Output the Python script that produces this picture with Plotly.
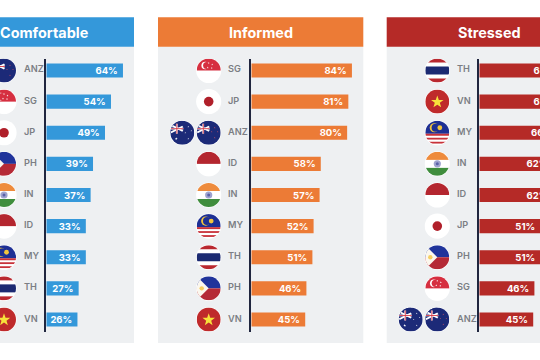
import base64
import math
import plotly.graph_objects as go

W, H = 540, 360

# ---- data ----
comfortable_codes = ["ANZ", "SG", "JP", "PH", "IN", "ID", "MY", "TH", "VN"]
comfortable_values = [64, 54, 49, 39, 37, 33, 33, 27, 26]
informed_codes = ["SG", "JP", "ANZ", "ID", "IN", "MY", "TH", "PH", "VN"]
informed_values = [84, 81, 80, 58, 57, 52, 51, 46, 45]
stressed_codes = ["TH", "VN", "MY", "IN", "ID", "JP", "PH", "SG", "ANZ"]
stressed_values = [68, 68, 66, 62, 62, 51, 51, 46, 45]
titles = ["Comfortable", "Informed", "Stressed"]
colors = ["#3498da", "#ec7b36", "#b52a27"]

FONT = "Inter, Roboto, sans-serif"

def star(cx, cy, r, fill):
    pts = []
    for i in range(10):
        a = -math.pi / 2 + i * math.pi / 5
        rr = r if i % 2 == 0 else r * 0.4
        pts.append(f"{cx + rr * math.cos(a):.2f},{cy + rr * math.sin(a):.2f}")
    return f'<polygon points="{" ".join(pts)}" fill="{fill}"/>'

def rect(x, y, w, h, fill):
    return f'<rect x="{x}" y="{y}" width="{w}" height="{h}" fill="{fill}"/>'

def jack(red):
    return (rect(0, 0, 12, 12, "#1c2a78")
            + '<polygon points="0,5 12,11 13,9.5 1,3.5" fill="#fff"/>'
            + '<polygon points="0,11 12,5 13,6.5 1,12.5" fill="#fff"/>'
            + rect(0, 7, 13, 1.8, "#fff") + rect(5.6, 3, 1.8, 10, "#fff")
            + rect(0, 7.5, 13, 0.9, red) + rect(6.1, 3, 0.9, 10, red))

FLAGS = {
    "SG": rect(0, 0, 48, 12, "#d62f40")
          + '<circle cx="8.5" cy="7" r="3.8" fill="#fff"/><circle cx="10" cy="7" r="3.6" fill="#d62f40"/>'
          + star(12, 4.5, 1, "#fff") + star(15.5, 6, 1, "#fff") + star(11, 9, 1, "#fff") + star(15, 9.5, 1, "#fff"),
    "JP": '<circle cx="12" cy="12" r="4.8" fill="#b01f2a"/>',
    "PH": rect(0, 0, 24, 12, "#20349b") + rect(0, 12, 24, 12, "#b52a36")
          + '<polygon points="0,0 12,12 0,24" fill="#fbf7ee"/><circle cx="5" cy="12" r="2.2" fill="#f5cf62"/>',
    "IN": rect(0, 0, 24, 8, "#ee8b3c") + rect(0, 16, 24, 8, "#3f8d3d")
          + '<circle cx="12" cy="12" r="3.6" fill="#9fa3cf"/><circle cx="12" cy="12" r="1.5" fill="#5a62a8"/>',
    "ID": rect(0, 0, 24, 12, "#b4262f"),
    "MY": rect(0, 0, 24, 13, "#1d2f94")
          + '<circle cx="9" cy="7" r="4.6" fill="#f2c53d"/><circle cx="10.3" cy="7" r="4" fill="#1d2f94"/>'
          + '<circle cx="14.5" cy="7" r="2.4" fill="#f2c53d"/>'
          + rect(0, 13, 24, 2, "#c8323a") + rect(0, 17, 24, 1.8, "#c8323a") + rect(0, 21, 24, 1.8, "#c8323a"),
    "TH": rect(0, 0, 24, 4, "#b9282f") + rect(0, 8, 24, 8, "#1c2a72") + rect(0, 20, 24, 4, "#b9282f"),
    "VN": rect(0, 0, 24, 24, "#bf2a2b") + star(12, 12.4, 6.6, "#f7e23b"),
    "AU": rect(0, 0, 24, 24, "#1c2a78") + jack("#d43a48")
          + star(6, 18, 1.4, "#fff") + star(18, 6, 0.9, "#fff") + star(21, 10, 0.8, "#fff")
          + star(18, 18, 0.9, "#fff") + star(15, 12, 0.8, "#fff"),
    "NZ": rect(0, 0, 24, 24, "#1c2a78") + jack("#d43a48")
          + star(18, 7, 0.9, "#d65563") + star(21, 11, 0.8, "#d65563")
          + star(15, 11, 0.8, "#d65563") + star(18, 17, 0.9, "#d65563"),
}

def flag_uri(code):
    svg = ('<svg xmlns="http://www.w3.org/2000/svg" width="26" height="26" viewBox="-1 -1 26 26">'
           '<defs><clipPath id="c"><circle cx="12" cy="12" r="12"/></clipPath></defs>'
           '<circle cx="12" cy="12" r="12.6" fill="#fff"/>'
           f'<g clip-path="url(#c)">{FLAGS[code]}</g></svg>')
    return "data:image/svg+xml;base64," + base64.b64encode(svg.encode()).decode()

# ---- layout in pixels ----
px = lambda x: x / W
py = lambda y: 1 - y / H
PANELS = [
    dict(left=-71, right=134, axis=46.3, label=23, flag=4, flag2=-22, title=44.5),
    dict(left=158, right=363.3, axis=251.3, label=227.7, flag=208.7, flag2=182.3, title=260.5),
    dict(left=386.7, right=600, axis=479.3, label=456.3, flag=437.3, flag2=410.7, title=489.5),
]
PER_PCT = 1.198
ROW_TOP, ROW_STEP = 70.5, 31.125
AX_TOP, AX_BOT = 58.7, 331.7

fig = go.Figure()
shapes, annos, images = [], [], []
series = [(comfortable_codes, comfortable_values), (informed_codes, informed_values), (stressed_codes, stressed_values)]

for i, (p, (codes, vals)) in enumerate(zip(PANELS, series)):
    n = "" if i == 0 else str(i + 1)
    xname, yname = f"x{n}", f"y{n}"
    col = colors[i]
    shapes.append(dict(type="rect", xref="paper", yref="paper", layer="below", line_width=0, fillcolor="#eef0f2",
                       x0=px(p["left"]), x1=px(p["right"]), y0=py(343), y1=py(46.5)))
    shapes.append(dict(type="rect", xref="paper", yref="paper", layer="below", line_width=0, fillcolor=col,
                       x0=px(p["left"]), x1=px(p["right"]), y0=py(46.7), y1=py(17.3)))
    annos.append(dict(text=f"<b>{titles[i]}</b>", xref="paper", yref="paper", x=px(p["title"]), y=py(32.5),
                      showarrow=False, xanchor="center", yanchor="middle",
                      font=dict(family=FONT, size=14.4, color="#fff")))
    right = min(p["right"], W)
    fig.add_trace(go.Bar(
        x=vals, y=codes, orientation="h", xaxis=xname, yaxis=yname,
        marker=dict(color=col, line=dict(width=0)), width=0.45,
        text=[f"{v}%\u00a0" for v in vals], textposition="inside", insidetextanchor="end",
        textangle=0, constraintext="none",
        textfont=dict(family=FONT, size=9.5, color="#fff", weight=700),
        hoverinfo="skip", showlegend=False))
    ax = dict(domain=[px(p["axis"]), px(right)], range=[0, (right - p["axis"]) / PER_PCT],
              visible=False, fixedrange=True, anchor=yname)
    ay = dict(domain=[py(AX_BOT), py(AX_TOP)], type="category", categoryorder="array", categoryarray=codes,
              range=[(AX_BOT - ROW_TOP) / ROW_STEP, (AX_TOP - ROW_TOP) / ROW_STEP],
              showline=True, linecolor="#20263f", linewidth=1.6, showticklabels=False, ticks="",
              showgrid=False, zeroline=False, anchor=xname, fixedrange=True)
    fig.update_layout({f"xaxis{n}": ax, f"yaxis{n}": ay})
    for code in codes:
        annos.append(dict(text=code, xref="paper", yref=yname, x=px(p["label"]), y=code, yshift=1.5, xshift=-1.5,
                          showarrow=False, xanchor="left", yanchor="middle",
                          font=dict(family=FONT, size=9.2, color="#7b7e84", weight=600)))
        pair = [("AU", p["flag2"]), ("NZ", p["flag"])] if code == "ANZ" else [(code, p["flag"])]
        for fc, cx in pair:
            images.append(dict(source=flag_uri(fc), xref="paper", yref=yname, x=px(cx), y=code,
                               sizex=26 / W, sizey=26 / ROW_STEP, sizing="stretch",
                               xanchor="center", yanchor="middle", layer="above"))

fig.update_layout(width=W, height=H, margin=dict(l=0, r=0, t=0, b=0), plot_bgcolor="rgba(0,0,0,0)",
                  paper_bgcolor="#fff", barmode="overlay", shapes=shapes, annotations=annos, images=images,
                  font=dict(family=FONT))
fig.write_html("out.html", config={"displayModeBar": False},
               post_script="document.body.style.margin='0';")
